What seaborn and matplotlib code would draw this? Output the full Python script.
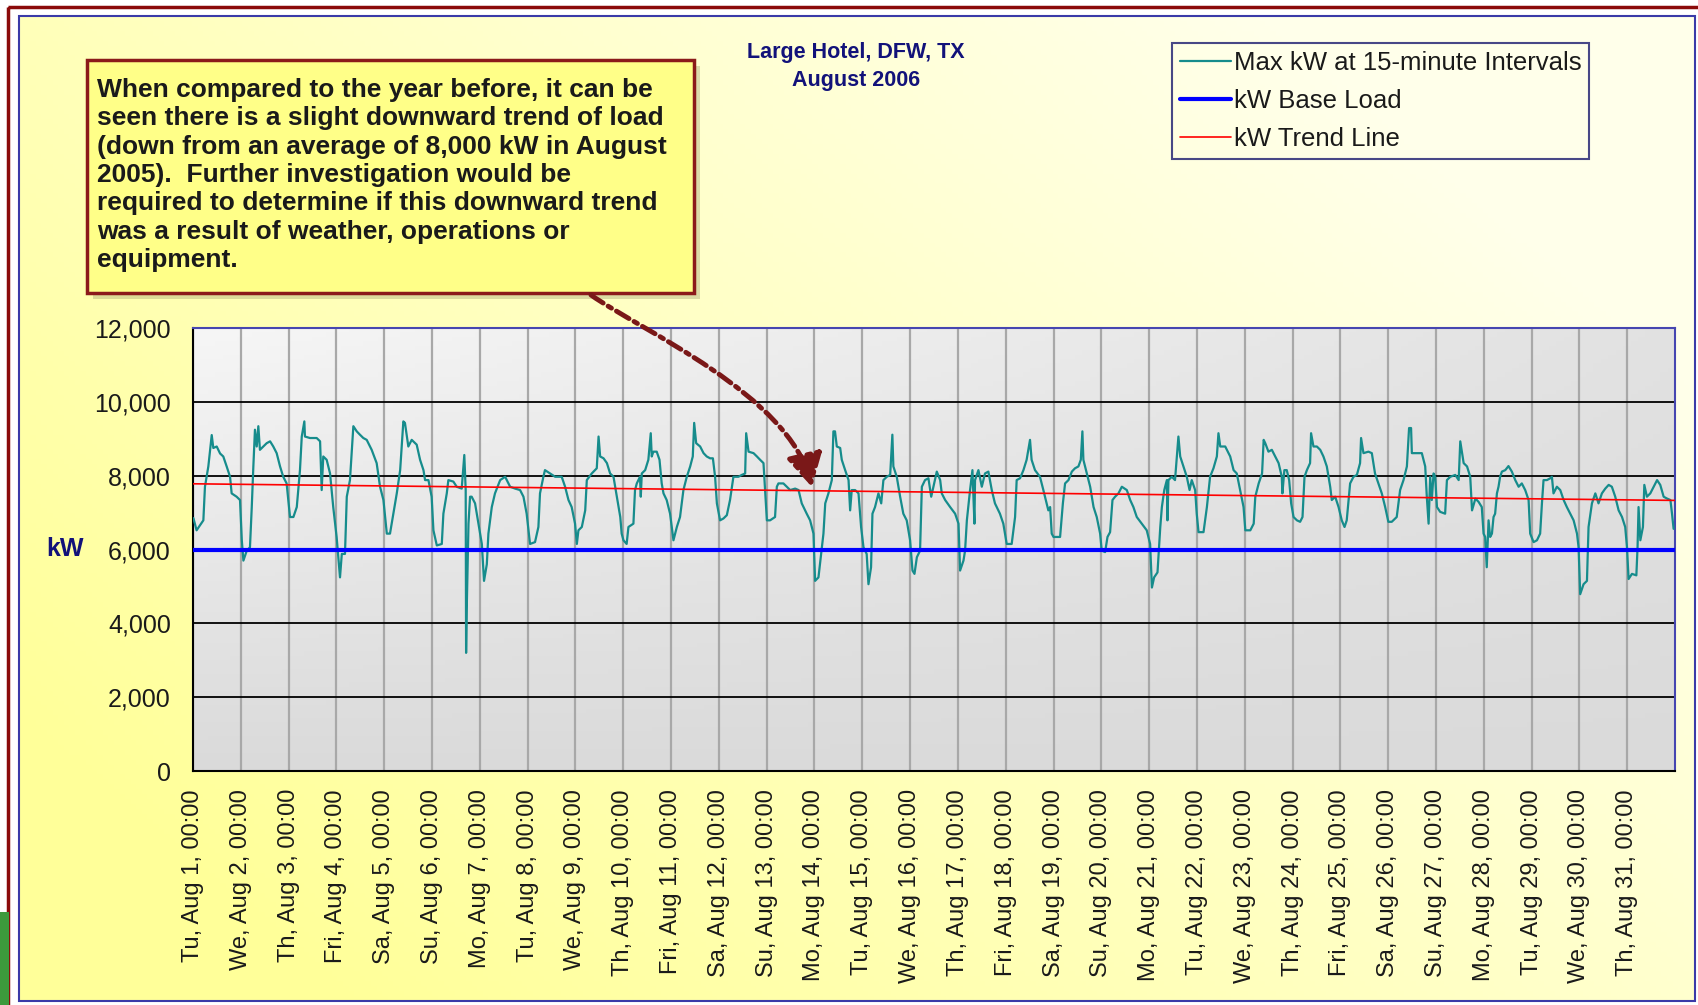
import numpy as np
import pandas as pd
import matplotlib.pyplot as plt
import seaborn as sns
from matplotlib.patches import Rectangle, FancyArrowPatch
from matplotlib.lines import Line2D
from matplotlib.path import Path

# hours since Tu Aug 1 00:00, and max kW
hours = [0.2, 1.8, 5.2, 6.0, 7.7, 9.4, 10.2, 11.9, 13.6, 15.2, 16.9, 18.6, 19.4, 21.9, 23.6,
         24.5, 25.3, 27.0, 28.6, 29.5, 30.3, 31.1, 32.0, 32.8, 33.6, 35.3, 37.0, 38.7, 40.3, 42.0, 43.7, 45.3, 47.0,
         48.7, 50.4, 52.1, 53.7, 54.6, 55.9, 56.2, 58.7, 62.1, 63.8, 64.6, 65.4, 67.1, 68.8, 70.4,
         72.1, 73.8, 74.7, 76.3, 77.2, 78.8, 80.5, 82.2, 83.8, 85.5, 87.2, 89.7, 92.2, 93.9, 95.6,
         97.3, 98.9, 100.6, 102.3, 104.0, 105.6, 106.4, 108.1, 109.8, 112.3, 114.0, 115.7, 116.5, 118.2,
         119.8, 120.7, 122.4, 124.9, 125.7, 127.4, 128.2, 130.7, 132.4, 134.9, 136.2, 136.9, 137.1, 137.4,
         138.3, 139.1, 139.9, 141.6, 143.3, 145.0, 146.1, 147.5, 148.3, 150.0, 151.6, 154.2, 156.7, 159.2,
         161.7, 164.2, 165.9, 167.5, 169.2, 171.7, 173.4, 174.2, 175.9, 176.7, 179.2, 181.8, 185.1, 186.8,
         188.5, 190.1, 191.8, 192.7, 193.5, 195.2, 196.9, 197.7, 200.2, 202.7, 203.6, 204.4, 206.1, 207.8,
         209.4, 211.1, 212.8, 214.5, 215.2, 216.1, 217.7, 218.6, 221.1, 221.9, 222.8, 224.4, 224.8, 225.3,
         227.0, 228.6, 229.8, 230.3, 231.1, 232.8, 234.2, 235.3, 236.2, 237.8, 239.5, 241.2, 242.9, 244.5,
         246.2, 247.9, 249.6, 250.9, 251.6, 252.6, 254.6, 256.3, 257.9, 259.6, 261.0, 262.1, 263.0, 264.6,
         266.3, 268.0, 269.6, 271.3, 273.8, 275.5, 277.2, 277.7, 278.9, 281.4, 283.1, 284.7, 286.4, 287.2,
         288.1, 289.7, 292.2, 293.1, 293.9, 296.4, 298.1, 299.8, 302.3, 304.0, 305.6, 308.1, 309.8, 311.5,
         312.3, 314.0, 315.7, 316.5, 317.4, 319.0, 320.7, 321.5, 322.3, 323.2, 324.9, 325.7, 327.4, 329.1,
         329.9, 330.7, 332.4, 334.1, 335.4, 336.6, 338.2, 339.1, 340.4, 341.1, 342.4, 344.1, 345.5, 346.6,
         348.3, 350.0, 351.1, 351.6, 353.3, 355.0, 356.6, 358.3, 360.0, 361.2, 362.2, 363.4, 365.0, 365.9,
         367.5, 369.2, 370.6, 371.7, 373.4, 375.1, 375.9, 377.6, 380.1, 382.6, 384.3, 385.1, 386.8, 387.6,
         388.5, 390.1, 391.3, 392.3, 392.6, 394.3, 396.0, 397.6, 399.3, 401.0, 402.6, 405.1, 406.8, 408.5,
         411.0, 412.7, 413.5, 415.2, 416.9, 418.5, 420.2, 421.0, 422.7, 425.2, 426.9, 429.4, 430.3, 431.1,
         432.0, 435.3, 436.7, 437.8, 439.5, 441.2, 442.8, 444.5, 445.7, 446.5, 447.0, 448.7, 450.4, 452.1,
         453.7, 455.4, 456.2, 457.9, 459.1, 460.4, 461.6, 462.9, 464.6, 466.3, 468.8, 470.5, 472.1, 473.8,
         476.3, 478.8, 480.5, 481.4, 482.5, 484.2, 485.6, 486.4, 487.6, 488.9, 489.2, 489.7, 491.4, 493.0,
         494.7, 495.6, 497.2, 498.9, 500.3, 501.4, 503.1, 503.9, 504.8, 507.3, 509.0, 510.6, 512.3, 514.0,
         514.8, 515.7, 518.2, 520.7, 522.4, 524.0, 525.7, 527.4, 528.3, 530.8, 532.5, 533.3, 535.0, 536.7,
         537.5, 538.3, 539.9, 541.6, 543.3, 545.0, 546.6, 546.9, 547.9, 549.1, 550.3, 551.3, 552.5, 554.2,
         555.8, 557.0, 558.0, 559.2, 560.8, 561.3, 562.5, 564.2, 565.9, 567.5, 569.2, 570.9, 571.7, 573.4,
         575.1, 576.7, 578.1, 579.2, 580.9, 582.6, 584.3, 585.9, 586.4, 587.6, 590.1, 591.8, 593.4, 595.1,
         596.8, 598.5, 600.1, 601.8, 604.3, 606.0, 607.7, 609.4, 610.5, 611.5, 611.9, 614.4, 616.9, 618.6,
         619.4, 620.3, 621.1, 621.9, 622.8, 623.6, 624.5, 626.1, 628.6, 629.5, 631.2, 633.7, 635.4, 636.2,
         637.9, 639.6, 641.2, 642.1, 643.8, 645.4, 647.0, 647.9, 648.7, 649.5, 650.4, 651.2, 652.1, 652.9,
         653.7, 654.6, 655.4, 656.2, 657.1, 658.8, 660.4, 662.1, 663.8, 665.5, 667.1, 668.8, 670.5, 671.3,
         673.0, 674.7, 676.3, 677.2, 678.0, 679.7, 681.4, 682.2, 683.0, 684.7, 686.4, 688.1, 689.7, 691.4,
         693.1, 694.8, 695.6, 696.4, 698.1, 699.8, 700.6, 702.3, 704.0, 705.6, 707.3, 709.0, 710.7, 712.3,
         714.0, 715.7, 717.4, 719.0, 719.9, 720.7, 722.4, 724.6, 725.2, 725.7, 726.6, 727.9, 728.6, 729.9,
         731.6, 733.3, 735.0, 736.6, 738.3, 740.0, 741.7, 742.5, 743.3]
kw = [6850, 6520, 6790, 7700, 8250, 9100, 8750, 8790, 8600, 8520, 8250, 7970, 7520, 7430, 7340,
      6250, 5700, 5970, 6060, 7150, 8250, 9245, 8790, 9340, 8700, 8790, 8880, 8930, 8790, 8610, 8250, 7970, 7790,
      6880, 6880, 7150, 8150, 9060, 9470, 9060, 9020, 9020, 8930, 7610, 8520, 8430, 8060, 7150,
      6340, 5245, 5880, 5880, 7430, 7880, 9340, 9200, 9110, 9020, 8970, 8700, 8340, 7700, 7340,
      6430, 6430, 6970, 7520, 8150, 9470, 9430, 8790, 8970, 8840, 8430, 8150, 7880, 7880,
      7430, 6520, 6110, 6150, 6970, 7520, 7880, 7840, 7700, 7650, 8560, 7610, 3200, 4340,
      6700, 7430, 7430, 7250, 6700, 6150, 5150, 5600, 6430, 7150, 7520, 7880, 7970, 7700,
      7650, 7610, 7430, 6970, 6150, 6200, 6610, 7520, 7970, 8150, 8060, 7970, 7970, 7700,
      7340, 7150, 6700, 6150, 6520, 6610, 7060, 7880, 8060, 8200, 9060, 8520, 8470, 8340,
      8060, 7970, 7430, 6880, 6430, 6250, 6150, 6610, 6700, 7610, 7790, 7970, 7430, 8060,
      8150, 8430, 9150, 8520, 8650, 8650, 8430, 7790, 7520, 7340, 6970, 6250, 6610, 6880,
      7610, 7970, 8250, 8520, 9430, 8880, 8790, 8610, 8520, 8470, 8470, 7970, 7250, 6790,
      6840, 6930, 7340, 7970, 7970, 8020, 8060, 9150, 8650, 8610, 8520, 8430, 8340, 7610,
      6790, 6790, 6880, 7700, 7790, 7790, 7700, 7610, 7650, 7610, 7250, 6970, 6790, 6430,
      5150, 5245, 6060, 6430, 7250, 7520, 7880, 9200, 9200, 8790, 8750, 8430, 8150, 7880,
      7060, 7610, 7610, 7520, 6610, 6060, 5880, 5060, 5520, 6970, 7150, 7520, 7250, 7880,
      7970, 8020, 9110, 8250, 7970, 7430, 6970, 6790, 6250, 5430, 5340, 5790, 5970, 7700,
      7880, 7930, 7430, 7700, 8110, 7880, 7520, 7340, 7150, 6970, 6700, 5430, 5700, 5970,
      6790, 7610, 8150, 6700, 7880, 8150, 7700, 8060, 8110, 7610, 7250, 6970, 6700, 6150,
      6150, 6880, 7880, 7930, 8150, 8430, 8970, 8430, 8150, 7970, 7610, 7060, 7150, 6430,
      6340, 6340, 7250, 7790, 7880, 8110, 8200, 8250, 8430, 9200, 8430, 8060, 7700, 7150,
      6880, 6430, 5970, 5930, 6340, 6470, 7340, 7430, 7520, 7700, 7610, 7340, 7150, 6880,
      6700, 6520, 6150, 4970, 5245, 5380, 6610, 7150, 7610, 7880, 6790, 7880, 7970, 7880,
      9060, 8520, 8250, 7970, 7610, 7880, 7610, 6970, 6470, 6470, 7150, 7970, 8200, 8520,
      9150, 8790, 8790, 8520, 8150, 8060, 7610, 7150, 6520, 6520, 6700, 7430, 7790, 8060,
      8970, 8880, 8650, 8700, 8520, 8340, 7970, 7520, 8150, 8150, 7880, 7250, 6880, 6790,
      6750, 6880, 7970, 8150, 8340, 9150, 8790, 8790, 8700, 8520, 8250, 7700, 7340, 7430,
      7150, 6790, 6610, 6790, 7790, 7970, 8020, 8340, 9020, 8610, 8650, 8610, 8060, 7790,
      7520, 7150, 6750, 6750, 6880, 7610, 7880, 8250, 9290, 9290, 8610, 8610, 8610, 8250,
      7430, 6700, 7970, 7340, 8060, 7970, 7150, 7020, 6970, 7880, 7970, 8020, 7880, 8930,
      8340, 8250, 7970, 7060, 7380, 7290, 7150, 6430, 6340, 5520, 6790, 6340, 6430, 6880,
      6970, 7520, 7700, 7970, 8110, 8150, 8260, 8110, 7880, 7700, 7790, 7610, 7340, 6430,
      6200, 6250, 6430, 7250, 7880, 7880, 7930, 7970, 7520, 7700, 7610, 7340, 7150, 6970,
      6790, 6430, 6060, 4790, 5060, 5150, 6610, 7250, 7520, 7250, 7520, 7650, 7750, 7700,
      7430, 7060, 6880, 6610, 6060, 5200, 5340, 5300, 6060, 7150, 6250, 6610, 7750, 7430,
      7520, 7700, 7880, 7750, 7430, 7380, 7340, 6970, 6560]

base_hours = [0, 744]
base_kw = [6000, 6000]
trend_hours = [0, 744]
trend_kw = [7780, 7330]

weekdays = ["Tu", "We", "Th", "Fri", "Sa", "Su", "Mo"]
day_ticks = list(range(0, 744, 24))
day_labels = [f"{weekdays[i % 7]}, Aug {i + 1}, 00:00" for i in range(31)]
y_ticks = [0, 2000, 4000, 6000, 8000, 10000, 12000]

note = ("When compared to the year before, it can be\n"
        "seen there is a slight downward trend of load\n"
        "(down from an average of 8,000 kW in August\n"
        "2005).  Further investigation would be\n"
        "required to determine if this downward trend\n"
        "was a result of weather, operations or\n"
        "equipment.")

sns.set_style("white")
plt.rcParams['font.family'] = ['Liberation Sans', 'DejaVu Sans']

W, H = 1699, 1005
fig = plt.figure(figsize=(W / 100, H / 100), dpi=100)
fig.patch.set_facecolor("white")

# chart background in pixel coordinates
bg = fig.add_axes([0, 0, 1, 1], zorder=-5)
bg.set_axis_off()
bg.set_xlim(0, W)
bg.set_ylim(H, 0)
yy, xx = np.mgrid[0:1:200j, 0:1:300j]
t = np.clip(0.8 * xx + 0.55 * (1 - yy) - 0.15, 0, 1)
yellow = np.array([1.0, 1.0, 0.60])
pale = np.array([1.0, 1.0, 0.92])
bg.imshow(yellow + (pale - yellow) * t[..., None], extent=[19, 1695, 1001, 16], aspect='auto')
bg.add_patch(Rectangle((19, 16), 1676, 985, fill=False, ec="#3a3aa8", lw=1.5))
bg.add_patch(Rectangle((8, 7), W, H, fill=False, ec="#8b0a0a", lw=2.5))
bg.add_patch(Rectangle((0, 912), 9, 93, fc="#3c9a3c", ec="none"))

# note box with shadow
bg.add_patch(Rectangle((93, 66), 607, 233, fc="#999966", ec="none", alpha=0.35))
bg.add_patch(Rectangle((87, 60), 607, 233, fc="#ffff88", ec="#8b1a1a", lw=2.5))
bg.text(97, 78, note, va='top', ha='left', fontsize=19, fontweight='bold',
        color="#1a1a1a", linespacing=1.23)

# title
bg.text(856, 52, "Large Hotel, DFW, TX", ha='center', va='center', fontsize=15.5,
        fontweight='bold', color="#12127a")
bg.text(856, 80, "August 2006", ha='center', va='center', fontsize=15.5,
        fontweight='bold', color="#12127a")
bg.text(65, 549, "kW", ha='center', va='center', fontsize=18, fontweight='bold', color="#12127a")

# plot area
ax = fig.add_axes([193 / W, 1 - 771 / H, 1482 / W, 443 / H])
ax.set_facecolor('none')
gy, gx = np.mgrid[0:1:100j, 0:1:200j]
shade = np.clip(0.965 - 0.11 * gy - 0.08 * gx * (1 - gy), 0, 1)
ax.imshow(np.dstack([shade] * 3), extent=[0, 744, 0, 12000], aspect='auto', zorder=0)

df = pd.DataFrame({"hour": hours, "kW": kw})
sns.lineplot(data=df, x="hour", y="kW", ax=ax, color="#168c8c", lw=1.6, zorder=3)
sns.lineplot(x=base_hours, y=base_kw, ax=ax, color="#0000ff", lw=3, zorder=4)
sns.lineplot(x=trend_hours, y=trend_kw, ax=ax, color="#ff0000", lw=1.2, zorder=5)

ax.set_xlim(0, 744)
ax.set_ylim(0, 12000)
ax.set_yticks(y_ticks)
ax.set_yticklabels([f"{v:,}" for v in y_ticks], fontsize=18, color="#1a1a1a")
ax.set_xticks(day_ticks)
ax.set_xticklabels(day_labels, rotation=90, fontsize=17, color="#1a1a1a")
ax.set_xlabel("")
ax.set_ylabel("")
ax.set_axisbelow(True)
ax.yaxis.grid(True, color="black", lw=1.3)
ax.xaxis.grid(True, color="#a8a8a8", lw=1.6)
ax.tick_params(axis='both', direction='out', length=8, width=1.5, color="black", pad=5)
ax.tick_params(axis='y', pad=8)
for side in ["left", "bottom"]:
    ax.spines[side].set_color("black")
    ax.spines[side].set_linewidth(1.5)
for side in ["top", "right"]:
    ax.spines[side].set_color("#4646b0")
    ax.spines[side].set_linewidth(1.5)

handles = [Line2D([], [], color="#168c8c", lw=1.6),
           Line2D([], [], color="#0000ff", lw=3),
           Line2D([], [], color="#ff0000", lw=1.2)]
labels = ["Max kW at 15-minute Intervals", "kW Base Load", "kW Trend Line"]
leg = fig.legend(handles, labels, loc='upper left', bbox_to_anchor=(1172 / W, 1 - 43 / H),
                 fontsize=18.5, frameon=True, fancybox=False, handlelength=2.0,
                 handletextpad=0.1, labelspacing=0.55, borderpad=0.3, borderaxespad=0)
leg.get_frame().set_facecolor('none')
leg.get_frame().set_edgecolor("#1a1a6e")
leg.get_frame().set_linewidth(1.5)
for txt in leg.get_texts():
    txt.set_color("#1a1a1a")

# curved dash-dot arrow from the note into the plot (pixel coords of the bg axes)
arrow_path = Path([(591, 295), (640, 330), (790, 395), (812, 487)],
                  [Path.MOVETO, Path.CURVE4, Path.CURVE4, Path.CURVE4])
arrow = FancyArrowPatch(path=arrow_path, transform=bg.transData,
                        arrowstyle="-|>,head_length=0.9,head_width=0.5", mutation_scale=22,
                        color="#7a1818", lw=3.5, linestyle=(0, (3, 1.2, 0.8, 1.2)), zorder=10)
fig.add_artist(arrow)

fig.savefig("out.png", dpi=100)
